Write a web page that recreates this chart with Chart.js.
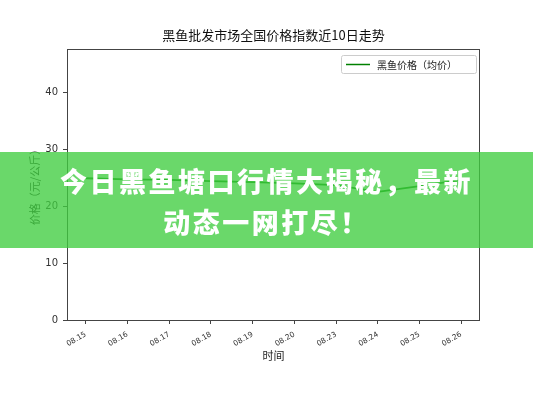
<!DOCTYPE html>
<html>
<head>
<meta charset="utf-8">
<script src="https://cdn.jsdelivr.net/npm/chart.js@4"></script>
<style>
  html, body { margin: 0; padding: 0; background: #fff; }
  #wrap { position: relative; width: 533px; height: 400px; }
  #banner {
    position: absolute; left: 0; top: 152px; width: 533px; height: 96px;
    background: rgba(64, 205, 64, 0.78);
    color: #fff; font-family: "Noto Sans CJK SC", sans-serif; font-weight: 900;
    font-size: 27px; letter-spacing: 2.5px; line-height: 41px;
    text-align: center; box-sizing: border-box; padding: 8px 30px 0 30px;
  }
</style>
</head>
<body>
<div id="wrap">
  <canvas id="myChart" width="533" height="400"></canvas>
  <div id="banner">今日黑鱼塘口行情大揭秘，最新<br>动态一网打尽！</div>
</div>
<script>
const days = ["08.15", "08.16", "08.17", "08.18", "08.19", "08.20", "08.23", "08.24", "08.25", "08.26"];
const prices = [24.9, 24.7, 24.6, 24.4, 24.2, 24.0, 23.7, 22.5, 23.5, 24.6];
const yTicks = [0, 10, 20, 30, 40];
const chartTitle = "黑鱼批发市场全国价格指数近10日走势";

const FONT = "'Noto Sans CJK SC', 'DejaVu Sans', sans-serif";

// axes frame, title over the plot and boxed legend, matplotlib style
const framePlugin = {
  id: "frame",
  afterDraw(chart) {
    const {ctx, chartArea: a} = chart;
    ctx.save();
    ctx.strokeStyle = "#444";
    ctx.lineWidth = 1;
    ctx.strokeRect(a.left + 0.5, a.top + 0.5, a.right - a.left - 1, a.bottom - a.top);

    ctx.fillStyle = "#111";
    ctx.font = "13px " + FONT;
    ctx.textAlign = "center";
    ctx.textBaseline = "middle";
    ctx.fillText(chartTitle, (a.left + a.right) / 2, 35);

    const ds = chart.data.datasets[0];
    const x = a.right - 139, y = a.top + 6, w = 135, h = 18;
    ctx.fillStyle = "rgba(255,255,255,0.8)";
    ctx.strokeStyle = "#ccc";
    ctx.beginPath();
    ctx.roundRect(x + 0.5, y + 0.5, w, h, 2);
    ctx.fill();
    ctx.stroke();
    ctx.strokeStyle = ds.borderColor;
    ctx.lineWidth = 1.5;
    ctx.beginPath();
    ctx.moveTo(x + 5, y + 9.5);
    ctx.lineTo(x + 29, y + 9.5);
    ctx.stroke();
    ctx.fillStyle = "#222";
    ctx.font = "10px " + FONT;
    ctx.textAlign = "left";
    ctx.fillText(ds.label, x + 36, y + 10);
    ctx.restore();
  }
};

const Chart = window.Chart;

new Chart(document.getElementById("myChart"), {
  type: "line",
  data: {
    datasets: [{
      label: "黑鱼价格（均价）",
      data: prices.map((v, i) => ({x: i, y: v})),
      borderColor: "#008000",
      borderWidth: 1.8,
      pointRadius: 0,
      tension: 0,
    }],
  },
  options: {
    responsive: false,
    animation: false,
    layout: {padding: {left: 0, right: 53, top: 49, bottom: 0}},
    plugins: {
      legend: {display: false},
      tooltip: {enabled: false},
    },
    scales: {
      x: {
        type: "linear",
        min: -0.45,
        max: 9.45,
        afterBuildTicks: axis => { axis.ticks = days.map((d, i) => ({value: i})); },
        afterFit: scale => { scale.height = 80; },
        grid: {display: true, drawOnChartArea: false, tickLength: 4, color: "#444"},
        border: {display: false},
        ticks: {
          callback: v => days[v],
          minRotation: 30,
          maxRotation: 30,
          autoSkip: false,
          color: "#333",
          padding: 6,
          font: {family: "'DejaVu Sans', sans-serif", size: 7.5},
        },
        title: {
          display: true,
          text: "时间",
          color: "#222",
          font: {family: FONT, size: 11},
          padding: {top: 0, bottom: 38},
        },
      },
      y: {
        min: 0,
        max: 47.6,
        afterBuildTicks: axis => { axis.ticks = yTicks.map(v => ({value: v})); },
        afterFit: scale => { scale.width = 67; },
        grid: {display: true, drawOnChartArea: false, tickLength: 4, color: "#444"},
        border: {display: false},
        ticks: {
          color: "#333",
          padding: 5,
          font: {family: "'DejaVu Sans', sans-serif", size: 10},
        },
        title: {
          display: true,
          text: "价格（元/公斤）",
          color: "#222",
          font: {family: FONT, size: 11},
          padding: {top: 28, bottom: 0},
        },
      },
    },
  },
  plugins: [framePlugin],
});
</script>
</body>
</html>
